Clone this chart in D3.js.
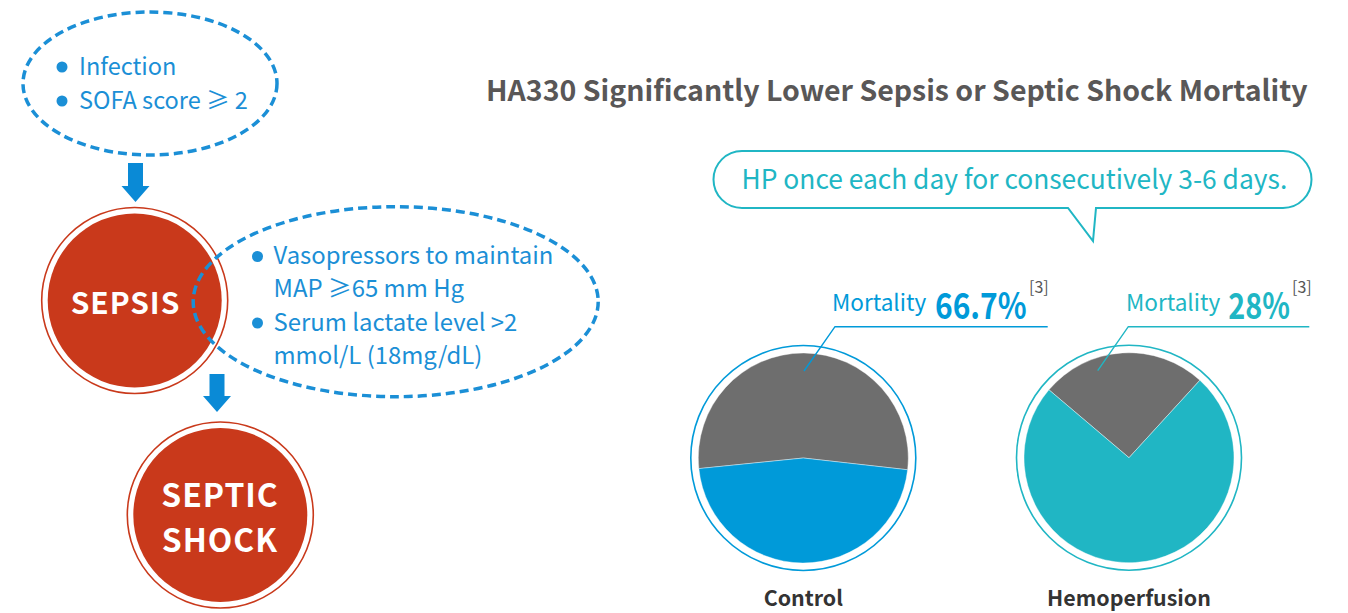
<!DOCTYPE html>
<html>
<head>
<meta charset="utf-8">
<script src="https://cdn.jsdelivr.net/npm/d3@7"></script>
<style>
  body { margin: 0; background: #fff; }
  text { font-family: "Noto Sans CJK SC", "Noto Sans", sans-serif; }
</style>
</head>
<body>
<script>
// data
var title = "HA330 Significantly Lower Sepsis or Septic Shock Mortality";
var note = "HP once each day for consecutively 3-6 days.";
var groups = ["Control", "Hemoperfusion"];
var mortalityLabels = ["66.7%", "28%"];
var refMark = "[3]";
// wedge sizes as they are drawn (share of circle)
var deadShare = [53.4, 25.6];
var aliveShare = [46.6, 74.4];
var startDeg = [-95.8, -49.7];
var sepsisCriteria = ["Infection", "SOFA score \u2265 2"];
var shockCriteria = [["Vasopressors to maintain", "MAP \u226565 mm Hg"], ["Serum lactate level >2", "mmol/L (18mg/dL)"]];
var stages = [["SEPSIS"], ["SEPTIC", "SHOCK"]];

var width = 1348, height = 613;
var blue = "#1b8fd6", red = "#c9391b", gray = "#6e6e6e";
var pieColors = ["#009ad9", "#20b6c4"];

var svg = d3.select("body").append("svg")
    .attr("width", width)
    .attr("height", height);

// size a text so it spans a given width
function fit(sel, w) {
    sel.style("font-size", "100px");
    var len = sel.node().getComputedTextLength();
    var size = 100 * w / len;
    sel.style("font-size", size + "px");
    return size;
}

// keep the font size, narrow the glyphs to span a given width
function narrow(sel, x, y, size, w) {
    sel.attr("x", 0).attr("y", 0).style("font-size", size + "px");
    var len = sel.node().getComputedTextLength();
    sel.attr("transform", "translate(" + x + "," + y + ") scale(" + (w / len) + ",1)");
}

// ---- left: flow of criteria ----
var left = svg.append("g");

left.append("ellipse")
    .attr("cx", 150).attr("cy", 83.5).attr("rx", 127).attr("ry", 71.5)
    .attr("fill", "none").attr("stroke", blue)
    .attr("stroke-width", 3.5).attr("stroke-dasharray", "9 5");

var sz = 0;
sepsisCriteria.forEach(function(d, i) {
    left.append("circle").attr("cx", 62).attr("cy", 67 + i * 34).attr("r", 5.5).attr("fill", blue);
    var t = left.append("text").attr("x", 79).attr("y", 74.5 + i * 34).attr("fill", blue).text(d);
    if (i == 1) sz = fit(t, 169);
});
left.selectAll("text").style("font-size", sz + "px");

function arrow(g, cx, top, headTop, tip) {
    var p = d3.path();
    p.moveTo(cx - 7.5, top);
    p.lineTo(cx + 7.5, top);
    p.lineTo(cx + 7.5, headTop);
    p.lineTo(cx + 14, headTop);
    p.lineTo(cx, tip);
    p.lineTo(cx - 14, headTop);
    p.lineTo(cx - 7.5, headTop);
    p.closePath();
    g.append("path").attr("d", p.toString()).attr("fill", "#0a8ad6");
}
arrow(left, 135.5, 163, 186, 202);
arrow(left, 217, 374, 396, 412);

var stagePos = [{x: 134.7, y: 300.5, tx: 125.5, base: [313.5], w: 105.6},
                {x: 220.3, y: 515, tx: 220, base: [507, 552], w: 113.4}];
stages.forEach(function(lines, i) {
    var p = stagePos[i];
    left.append("circle").attr("cx", p.x).attr("cy", p.y).attr("r", 93)
        .attr("fill", "none").attr("stroke", red).attr("stroke-width", 1.6);
    left.append("circle").attr("cx", p.x).attr("cy", p.y).attr("r", 87).attr("fill", red);
    var s = 0;
    var ts = lines.map(function(l, j) {
        var t = left.append("text").attr("x", p.tx).attr("y", p.base[j])
            .attr("text-anchor", "middle").attr("fill", "#fff")
            .attr("font-weight", "bold").style("letter-spacing", "1px").text(l);
        if (j == 0) s = fit(t, p.w);
        return t;
    });
    ts.forEach(function(t) { t.style("font-size", s + "px"); });
});

left.append("ellipse")
    .attr("cx", 395.7).attr("cy", 301.7).attr("rx", 202.5).attr("ry", 95)
    .attr("fill", "none").attr("stroke", blue)
    .attr("stroke-width", 3.5).attr("stroke-dasharray", "9 5");

var shockG = left.append("g");
var lineY = [264, 297, 330.5, 364];
var k = 0, s2 = 0;
shockCriteria.forEach(function(item) {
    shockG.append("circle").attr("cx", 257.5).attr("cy", lineY[k] - 7.5).attr("r", 5.5).attr("fill", blue);
    item.forEach(function(l) {
        var t = shockG.append("text").attr("x", 273.5).attr("y", lineY[k]).attr("fill", blue).text(l);
        if (k == 0) s2 = fit(t, 280);
        k++;
    });
});
shockG.selectAll("text").style("font-size", s2 + "px");

// ---- right: mortality pies ----
var right = svg.append("g");

var tt = right.append("text").attr("x", 486).attr("y", 101)
    .attr("fill", "#595757").attr("font-weight", "bold").text(title);
fit(tt, 822);

// speech bubble
right.append("path")
    .attr("d", "M742,151 H1283 A28.5,28.5 0 0 1 1283,208 H1096 L1093,241 L1068,208 H742 A28.5,28.5 0 0 1 742,151 Z")
    .attr("fill", "#fff").attr("stroke", pieColors[1]).attr("stroke-width", 2);
var nt = right.append("text").attr("x", 741.5).attr("y", 188.5)
    .attr("fill", pieColors[1]).text(note);
fit(nt, 546);

var pieLayout = [
    {cx: 803.3, cy: 458, lead: [[804, 371], [835, 326.7], [1047.7, 326.7]], mx: 832, vx: 935, rx: 1029, vw: 91.7},
    {cx: 1129, cy: 457.7, lead: [[1097.7, 370.7], [1128.3, 326.7], [1309.3, 326.7]], mx: 1126, vx: 1228.3, rx: 1292, vw: 61.7}
];

var arc = d3.arc().innerRadius(0).outerRadius(105);

groups.forEach(function(name, i) {
    var L = pieLayout[i];
    var color = pieColors[i];
    var g = right.append("g").attr("transform", "translate(" + L.cx + "," + L.cy + ")");

    var a0 = startDeg[i] * Math.PI / 180;
    var pie = d3.pie().sort(null).startAngle(a0).endAngle(a0 + 2 * Math.PI);
    var slices = pie([deadShare[i], aliveShare[i]]);

    g.append("circle").attr("r", 112.5).attr("fill", "none")
        .attr("stroke", color).attr("stroke-width", 1.6);
    g.selectAll("path.slice")
        .data(slices)
        .enter().append("path")
        .attr("class", "slice")
        .attr("d", arc)
        .attr("fill", function(d, j) { return j == 0 ? gray : color; })
        .attr("stroke", "#fff").attr("stroke-width", 0.4);

    right.append("path")
        .attr("d", d3.line()(L.lead))
        .attr("fill", "none").attr("stroke", color).attr("stroke-width", 1.4);

    var m = right.append("text").attr("x", L.mx).attr("y", 310.7).attr("fill", color).text("Mortality");
    fit(m, 94.3);
    var v = right.append("text").attr("fill", color)
        .attr("font-weight", "bold").text(mortalityLabels[i]);
    narrow(v, L.vx, 318.5, 36, L.vw);
    right.append("text").attr("x", L.rx).attr("y", 292.5).attr("fill", "#555")
        .style("font-size", "16px").text(refMark);

    var lbl = right.append("text").attr("x", L.cx).attr("y", 605.5)
        .attr("text-anchor", "middle").attr("fill", "#333")
        .attr("font-weight", "bold").text(name);
    if (i == 0) fit(lbl, 79.3); else fit(lbl, 164);
});
</script>
</body>
</html>
